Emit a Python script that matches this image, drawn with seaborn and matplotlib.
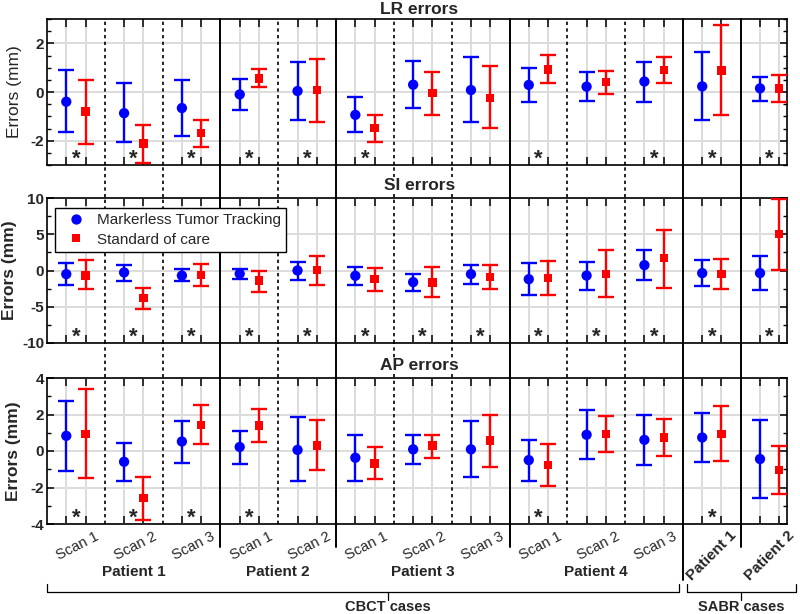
import numpy as np
import pandas as pd
import matplotlib
matplotlib.use("Agg")
import matplotlib.pyplot as plt
import matplotlib.transforms as mtransforms
from matplotlib.lines import Line2D
from matplotlib.ticker import MultipleLocator
import seaborn as sns

# ---------------- data ----------------
methods = ["Markerless Tumor Tracking", "Standard of care"]
cbct_patients = ["Patient 1", "Patient 2", "Patient 3", "Patient 4"]
cbct_scans = [["Scan 1", "Scan 2", "Scan 3"], ["Scan 1", "Scan 2"],
              ["Scan 1", "Scan 2", "Scan 3"], ["Scan 1", "Scan 2", "Scan 3"]]
sabr_patients = ["Patient 1", "Patient 2"]
case_labels = ["CBCT cases", "SABR cases"]
panel_titles = ["LR errors", "SI errors", "AP errors"]

# LR
lr_mtt_mean = [-0.40, -0.87, -0.66, -0.10, 0.04, -0.94, 0.30, 0.08, 0.29, 0.22, 0.43, 0.23, 0.15]
lr_mtt_lo = [-1.66, -2.07, -1.80, -0.73, -1.14, -1.66, -0.67, -1.25, -0.42, -0.36, -0.42, -1.14, -0.36]
lr_mtt_hi = [0.91, 0.37, 0.51, 0.54, 1.25, -0.19, 1.29, 1.43, 0.98, 0.81, 1.22, 1.64, 0.63]
lr_soc_mean = [-0.80, -2.12, -1.69, 0.56, 0.08, -1.48, -0.05, -0.25, 0.92, 0.40, 0.91, 0.88, 0.15]
lr_soc_lo = [-2.12, -2.92, -2.25, 0.19, -1.22, -2.05, -0.94, -1.48, 0.36, -0.08, 0.36, -0.95, -0.42]
lr_soc_hi = [0.51, -1.35, -1.14, 0.95, 1.36, -0.95, 0.81, 1.06, 1.54, 0.85, 1.43, 2.76, 0.70]
lr_sig = [1, 1, 1, 1, 1, 1, 0, 0, 1, 0, 1, 1, 1]

# SI
si_mtt_mean = [-0.5, -0.27, -0.7, -0.45, 0.0, -0.73, -1.6, -0.5, -1.2, -0.7, 0.74, -0.36, -0.36]
si_mtt_lo = [-2.0, -1.4, -1.5, -1.15, -1.28, -2.0, -2.76, -1.9, -3.36, -2.67, -1.28, -2.1, -2.67]
si_mtt_hi = [1.1, 0.8, 0.23, 0.23, 1.24, 0.55, -0.45, 0.8, 1.1, 1.24, 2.86, 1.38, 2.0]
si_soc_mean = [-0.7, -3.8, -0.6, -1.38, 0.1, -1.2, -1.65, -0.9, -1.05, -0.5, 1.71, -0.45, 5.07]
si_soc_lo = [-2.5, -5.3, -2.2, -2.9, -2.0, -2.76, -3.7, -2.6, -3.36, -3.67, -2.35, -2.57, 0.1]
si_soc_hi = [1.4, -2.4, 0.93, 0.0, 2.0, 0.33, 0.55, 0.8, 1.34, 2.76, 5.6, 1.6, 9.9]
si_sig = [1, 1, 1, 1, 1, 1, 1, 1, 1, 1, 1, 1, 1]

# AP
ap_mtt_mean = [0.83, -0.59, 0.52, 0.22, 0.06, -0.37, 0.09, 0.09, -0.5, 0.89, 0.61, 0.74, -0.44]
ap_mtt_lo = [-1.11, -1.65, -0.65, -0.72, -1.67, -1.65, -0.69, -1.43, -1.67, -0.46, -0.74, -0.63, -2.57]
ap_mtt_hi = [2.74, 0.43, 1.67, 1.11, 1.85, 0.89, 0.89, 1.67, 0.61, 2.24, 2.0, 2.09, 1.69]
ap_soc_mean = [0.93, -2.59, 1.41, 1.39, 0.3, -0.69, 0.3, 0.57, -0.78, 0.93, 0.74, 0.93, -1.05]
ap_soc_lo = [-1.48, -3.78, 0.37, 0.48, -1.05, -1.56, -0.37, -0.87, -1.94, -0.04, -0.28, -0.56, -2.35]
ap_soc_hi = [3.39, -1.43, 2.5, 2.28, 1.69, 0.2, 0.89, 1.96, 0.37, 1.91, 1.76, 2.46, 0.28]
ap_sig = [1, 1, 1, 1, 0, 0, 0, 0, 1, 0, 0, 1, 0]

# ---------------- style ----------------
sns.set_theme(style="white")
plt.rcParams["font.family"] = ["Liberation Sans", "DejaVu Sans"]
plt.rcParams["axes.unicode_minus"] = False

palette = {methods[0]: "#0000ff", methods[1]: "#ff0000"}
markers_map = {methods[0]: "o", methods[1]: "s"}
sizes_map = {methods[0]: 55, methods[1]: 36}

panels = [
    dict(title=panel_titles[0], mtt=(lr_mtt_mean, lr_mtt_lo, lr_mtt_hi), soc=(lr_soc_mean, lr_soc_lo, lr_soc_hi),
         sig=lr_sig, ylim=(-3, 3), major=2, minor=0.5, rect_px=(19, 165), ylab_bold=False, ylab_px=15,
         title_y=9),
    dict(title=panel_titles[1], mtt=(si_mtt_mean, si_mtt_lo, si_mtt_hi), soc=(si_soc_mean, si_soc_lo, si_soc_hi),
         sig=si_sig, ylim=(-10, 10), major=5, minor=2.5, rect_px=(198, 343), ylab_bold=True, ylab_px=10,
         title_y=185),
    dict(title=panel_titles[2], mtt=(ap_mtt_mean, ap_mtt_lo, ap_mtt_hi), soc=(ap_soc_mean, ap_soc_lo, ap_soc_hi),
         sig=ap_sig, ylim=(-4, 4), major=2, minor=1, rect_px=(378, 524), ylab_bold=True, ylab_px=14,
         title_y=366),
]

W, H = 800, 614
fig = plt.figure(figsize=(W / 100, H / 100), dpi=100)
left_px, right_px = 47, 787
n_groups = len(lr_mtt_mean)
xmax = 38.4

group_counts = [len(s) for s in cbct_scans] + [1] * len(sabr_patients)
bounds = np.cumsum(group_counts)
patient_bounds = [3 * b for b in bounds[:-1]]
all_bounds = [3 * k for k in range(1, n_groups)]
n_cbct = sum(len(s) for s in cbct_scans)

solid_kw = dict(color="black", lw=1.4)
dot_kw = dict(color="black", lw=1.2, linestyle=(0, (2, 2)))

axes = []
for i, p in enumerate(panels):
    top, bot = p["rect_px"]
    ax = fig.add_axes([left_px / W, 1 - bot / H, (right_px - left_px) / W, (bot - top) / H])
    axes.append(ax)
    rows = []
    for m, (mean, lo, hi) in zip(methods, [p["mtt"], p["soc"]]):
        off = 1 if m == methods[0] else 2
        for k in range(n_groups):
            rows.append(dict(x=3 * k + off, mean=mean[k], lo=lo[k], hi=hi[k], method=m))
    df = pd.DataFrame(rows)
    for m in methods:
        sub = df[df["method"] == m]
        ax.errorbar(sub["x"], sub["mean"],
                    yerr=[sub["mean"] - sub["lo"], sub["hi"] - sub["mean"]],
                    fmt="none", ecolor=palette[m], elinewidth=1.7, capsize=5.5, capthick=1.7,
                    zorder=3)
    sns.scatterplot(data=df, x="x", y="mean", hue="method", style="method", size="method",
                    palette=palette, markers=markers_map, sizes=sizes_map, linewidth=0,
                    ax=ax, zorder=4, legend=(i == 1))
    # group separators inside the panel
    for b in all_bounds:
        kw = solid_kw if b in patient_bounds else dot_kw
        ax.axvline(b, zorder=2.5, **kw)
    ax.set_xlim(0, xmax)
    ax.set_ylim(*p["ylim"])
    xt = [3 * k + o for k in range(n_groups) for o in (1, 2)]
    ax.set_xticks(xt)
    ax.set_xticklabels([])
    ax.set_xlabel("")
    ax.yaxis.set_major_locator(MultipleLocator(p["major"]))
    ax.yaxis.set_minor_locator(MultipleLocator(p["minor"]))
    ax.tick_params(axis="x", which="major", direction="in", top=True, bottom=True,
                   length=5.5, width=1.1, color="black", labelbottom=False)
    ax.tick_params(axis="y", which="major", direction="in", left=True, right=True,
                   length=5, width=1.1, color="black", labelsize=11, pad=2)
    ax.tick_params(axis="y", which="minor", direction="in", left=True, right=True,
                   length=3, width=1.0, color="black")
    for lab in ax.get_yticklabels():
        lab.set_fontweight("bold")
    ax.grid(True, which="major", color="#dcdcdc", lw=1.4)
    ax.set_axisbelow(True)
    for s in ax.spines.values():
        s.set_color("black")
        s.set_linewidth(1.2)
    ax.set_ylabel("Errors (mm)", fontsize=12.5, fontweight="bold" if p["ylab_bold"] else "normal")
    ax.yaxis.label.set_verticalalignment("center")
    ax.yaxis.set_label_coords((p["ylab_px"] - left_px) / (right_px - left_px), 0.5)
    fig.text((left_px + right_px) / 2 / W + 0.003, 1 - p["title_y"] / H, p["title"], ha="center", va="center",
             fontsize=12.5, fontweight="bold", zorder=20,
             bbox=dict(facecolor="white", edgecolor="none", pad=0.5))
    tr = mtransforms.blended_transform_factory(ax.transData, ax.transAxes)
    for k, s in enumerate(p["sig"]):
        if s:
            ax.text(3 * k + 1.5, 0.005, "*", transform=tr, ha="center", va="baseline", fontsize=16,
                    fontweight="bold")
    if i == 1:
        h, l = ax.get_legend_handles_labels()
        hl = [(hh, ll) for hh, ll in zip(h, l) if ll in methods]
        leg = ax.legend([x[0] for x in hl], [x[1] for x in hl], loc="upper left",
                        bbox_to_anchor=((55 - left_px) / (right_px - left_px), (343 - 208) / (343 - 198)),
                        borderaxespad=0, frameon=True, fancybox=False, framealpha=1,
                        edgecolor="black", fontsize=11, handletextpad=0.4, borderpad=0.35,
                        labelspacing=0.35, handlelength=2.0)
        leg.get_frame().set_linewidth(1.0)
        leg.set_zorder(10)

# ---------------- separators across gaps and bottom labels ----------------
ax_b = axes[-1]
trf = mtransforms.blended_transform_factory(ax_b.transData, fig.transFigure)
y_top = 1 - 19 / H
y_bot = 1 - 524 / H

for b in all_bounds:
    if b in patient_bounds:
        low = 1 - 580 / H if b == 3 * n_cbct else 1 - 547 / H
        fig.add_artist(Line2D([b, b], [low, y_top], transform=trf, zorder=-1, **solid_kw))
    else:
        fig.add_artist(Line2D([b, b], [y_bot, y_top], transform=trf, zorder=-1, **dot_kw))

# scan labels
g = 0
start = 0
for pi, scans in enumerate(cbct_scans):
    for s in scans:
        fig.text(3 * g + 1.6, 1 - 546 / H, s, transform=trf, ha="center", va="center",
                 rotation=27, fontsize=10.5, rotation_mode="anchor")
        g += 1
    center = 3 * (start + g) / 2
    fig.text(center, 1 - 572 / H, cbct_patients[pi], transform=trf, ha="center", va="center",
             fontsize=11, fontweight="bold")
    start = g
for sp in sabr_patients:
    fig.text(3 * g + 1.5, 1 - 556 / H, sp, transform=trf, ha="center", va="center",
             rotation=45, fontsize=11, fontweight="bold", rotation_mode="anchor")
    g += 1

# brackets
yb = 1 - 592 / H
yb_up = 1 - 584 / H
yb_dn = 1 - 600 / H
def bracket(x0, x1, xc, label):
    fig.add_artist(Line2D([x0, x0, x1, x1], [yb_up, yb, yb, yb_up], transform=trf, color="black", lw=0.9))
    fig.add_artist(Line2D([xc, xc], [yb, yb_dn], transform=trf, color="black", lw=0.9))
    fig.text(xc, 1 - 607 / H, label, transform=trf, ha="center", va="center", fontsize=10.5,
             fontweight="bold")

bracket(0.0, 32.8, 17.7, case_labels[0])
bracket(33.22, 38.85, 36.0, case_labels[1])

fig.patch.set_facecolor("white")
fig.savefig("out.png", dpi=100, facecolor="white")
